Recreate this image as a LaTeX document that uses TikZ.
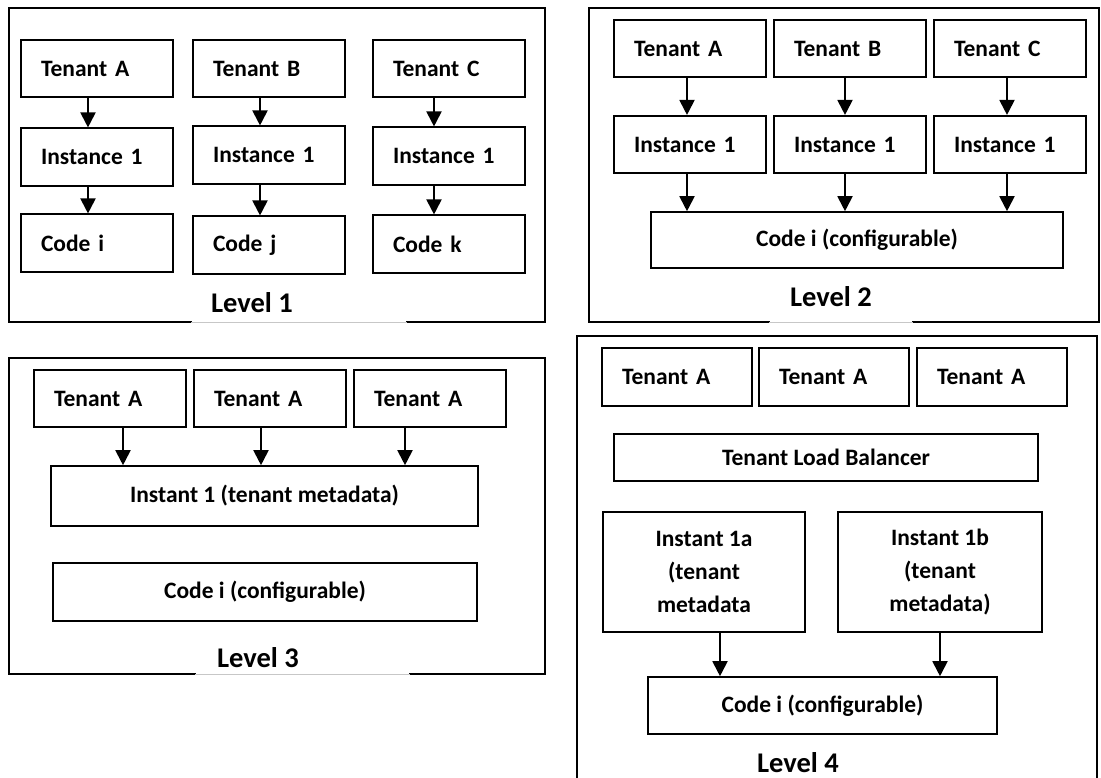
\documentclass[tikz,border=0pt]{standalone}
\usepackage{fontspec}
\setmainfont{Carlito}
\usetikzlibrary{arrows.meta}
\tikzset{
  frame/.style={line width=1.8pt, line cap=rect},
  gapline/.style={line width=0.7pt, black!22},
  lbox/.style={draw, line width=1.6pt, inner xsep=20pt, inner ysep=0pt,
    text width=112pt, minimum height=57.5pt, align=left,
    font=\fontsize{23.5}{28}\selectfont\bfseries},
  cbox/.style={draw, line width=1.6pt, inner sep=0pt, align=center,
    font=\fontsize{23.5}{33}\selectfont\bfseries},
  arr/.style={line width=1.9pt, -{Triangle[width=15pt,length=15pt]}},
  lvl/.style={font=\fontsize{28.5}{32}\selectfont\bfseries}
}
\begin{document}
\begin{tikzpicture}[x=1pt,y=-1pt]
\useasboundingbox[fill=white] (0,0) rectangle (1101,778);

% ---------- Level 1: separate instance and code per tenant ----------
\draw[frame] (191,322) -- (9,322) -- (9,8) -- (545,8) -- (545,322) -- (407,322);
\draw[gapline] (191,322.5) -- (407,322.5);
\node[lbox] (t1a) at (97,68.5) {Tenant A};
\node[lbox] (t1b) at (269,68.5) {Tenant B};
\node[lbox] (t1c) at (449,68.5) {Tenant C};
\node[lbox] (i1a) at (97,157) {Instance 1};
\node[lbox] (i1b) at (269,155) {Instance 1};
\node[lbox] (i1c) at (449,156) {Instance 1};
\node[lbox] (c1a) at (97,243) {Code i};
\node[lbox] (c1b) at (269,245) {Code j};
\node[lbox] (c1c) at (449,244) {Code k};
\node[lvl] (lv1) at (252,303) {Level 1};
\draw[arr] ([xshift=-9pt]t1a.south) -- ([xshift=-9pt]i1a.north);
\draw[arr] ([xshift=-9pt]i1a.south) -- ([xshift=-9pt]c1a.north);
\draw[arr] ([xshift=-9pt]t1b.south) -- ([xshift=-9pt]i1b.north);
\draw[arr] ([xshift=-9pt]i1b.south) -- ([xshift=-9pt]c1b.north);
\draw[arr] ([xshift=-15pt]t1c.south) -- ([xshift=-15pt]i1c.north);
\draw[arr] ([xshift=-15pt]i1c.south) -- ([xshift=-15pt]c1c.north);

% ---------- Level 2: shared configurable code ----------
\draw[frame] (769,322) -- (589,322) -- (589,8) -- (1099,8) -- (1099,322) -- (913,322);
\draw[gapline] (769,322.5) -- (913,322.5);
\node[lbox] (t2a) at (690,48.5) {Tenant A};
\node[lbox] (t2b) at (850,48.5) {Tenant B};
\node[lbox] (t2c) at (1010,48.5) {Tenant C};
\node[lbox] (i2a) at (690,144.5) {Instance 1};
\node[lbox] (i2b) at (850,144.5) {Instance 1};
\node[lbox] (i2c) at (1010,144.5) {Instance 1};
\node[cbox, minimum width=412pt, minimum height=56pt] (c2) at (857,240) {Code i (configurable)};
\node[lvl] (lv2) at (831,297) {Level 2};
\draw[arr] ([xshift=-3pt]t2a.south) -- ([xshift=-3pt]i2a.north);
\draw[arr] ([xshift=-5pt]t2b.south) -- ([xshift=-5pt]i2b.north);
\draw[arr] ([xshift=-3pt]t2c.south) -- ([xshift=-3pt]i2c.north);
\draw[arr] ([xshift=-3pt]i2a.south) -- ([xshift=-3pt]i2a.south |- c2.north);
\draw[arr] ([xshift=-5pt]i2b.south) -- ([xshift=-5pt]i2b.south |- c2.north);
\draw[arr] ([xshift=-3pt]i2c.south) -- ([xshift=-3pt]i2c.south |- c2.north);

% ---------- Level 3: shared instance with tenant metadata ----------
\draw[frame] (195,674) -- (9,674) -- (9,358) -- (545,358) -- (545,674) -- (410,674);
\draw[gapline] (195,674.5) -- (410,674.5);
\node[lbox] (t3a) at (110,398.5) {Tenant A};
\node[lbox] (t3b) at (270,398.5) {Tenant A};
\node[lbox] (t3c) at (430,398.5) {Tenant A};
\node[cbox, minimum width=427pt, minimum height=60pt] (i3) at (264.5,496) {Instant 1 (tenant metadata)};
\node[cbox, minimum width=424pt, minimum height=58pt] (c3) at (265,592) {Code i (configurable)};
\node[lvl] (lv3) at (258,658) {Level 3};
\draw[arr] ([xshift=13pt]t3a.south) -- ([xshift=13pt]t3a.south |- i3.north);
\draw[arr] ([xshift=-9pt]t3b.south) -- ([xshift=-9pt]t3b.south |- i3.north);
\draw[arr] ([xshift=-25pt]t3c.south) -- ([xshift=-25pt]t3c.south |- i3.north);

% ---------- Level 4: load-balanced instances ----------
\draw[frame] (577,778) -- (577,336) -- (1097,336) -- (1097,778);
\node[lbox, text width=110pt] (t4a) at (677,377) {Tenant A};
\node[lbox, text width=110pt] (t4b) at (834,377) {Tenant A};
\node[lbox, text width=110pt] (t4c) at (992,377) {Tenant A};
\node[cbox, minimum width=424pt, minimum height=47pt] (lb4) at (826,457.5) {Tenant Load Balancer};
\node[cbox, minimum width=202pt, minimum height=120pt] (i4a) at (704,572) {Instant 1a\\(tenant\\metadata};
\node[cbox, minimum width=204pt, minimum height=120pt] (i4b) at (940,572) {Instant 1b\\(tenant\\metadata)};
\node[cbox, minimum width=349pt, minimum height=57pt] (c4) at (822.5,705.5) {Code i (configurable)};
\node[lvl] (lv4) at (798,763) {Level 4};
\draw[arr] ([xshift=16pt]i4a.south) -- ([xshift=16pt]i4a.south |- c4.north);
\draw[arr] (i4b.south) -- (i4b.south |- c4.north);
\end{tikzpicture}
\end{document}
